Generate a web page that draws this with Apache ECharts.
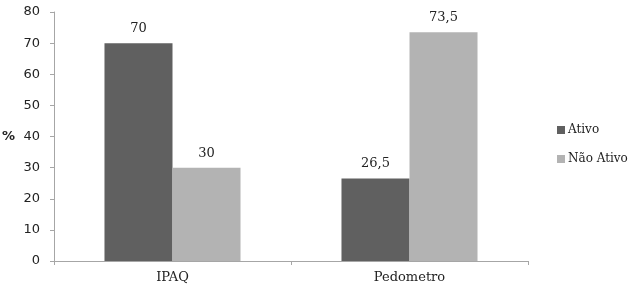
<!DOCTYPE html>
<html>
<head>
<meta charset="utf-8">
<script src="https://cdn.jsdelivr.net/npm/echarts@6/dist/echarts.min.js"></script>
<style>
  html, body { margin: 0; padding: 0; background: #fff; }
  #chart { width: 634px; height: 288px; }
</style>
</head>
<body>
<div id="chart"></div>
<script>
// Dados do gráfico
const categorias = ['IPAQ', 'Pedometro'];
const ativo = [70, 26.5];
const naoAtivo = [30, 73.5];
const seriesNomes = ['Ativo', 'Não Ativo'];

const serifFont = '"DejaVu Serif", serif';
const sansFont = '"DejaVu Sans", Verdana, sans-serif';

function fmt(v) {
    return String(v).replace('.', ',');
}

const labelStyle = {
    show: true,
    position: 'top',
    distance: 8,
    color: '#222',
    fontFamily: serifFont,
    fontSize: 13,
    formatter: function(p) { return fmt(p.value); }
};

const option = {
    animation: false,
    backgroundColor: '#fff',
    grid: {
        left: 54,
        right: 106,
        top: 12,
        bottom: 27,
        containLabel: false,
        outerBoundsMode: 'none'
    },
    legend: {
        orient: 'vertical',
        left: 552,
        top: 119,
        itemWidth: 8,
        itemHeight: 8,
        itemGap: 17,
        icon: 'rect',
        textStyle: {
            fontFamily: serifFont,
            fontSize: 12,
            color: '#222',
            padding: [0, 0, 0, -2]
        },
        data: seriesNomes
    },
    xAxis: {
        type: 'category',
        data: categorias,
        axisLine: { lineStyle: { color: '#a6a6a6', width: 1 } },
        axisTick: { show: true, alignWithLabel: false, length: 4, lineStyle: { color: '#a6a6a6' } },
        axisLabel: {
            color: '#222',
            fontFamily: serifFont,
            fontSize: 13,
            margin: 10
        }
    },
    yAxis: {
        type: 'value',
        min: 0,
        max: 80,
        interval: 10,
        name: '%',
        nameLocation: 'middle',
        nameRotate: 0,
        nameGap: 39,
        nameTextStyle: {
            fontFamily: sansFont,
            fontWeight: 'bold',
            fontSize: 13,
            color: '#222'
        },
        axisLine: { show: true, lineStyle: { color: '#a6a6a6', width: 1 } },
        axisTick: { show: true, length: 4, lineStyle: { color: '#a6a6a6' } },
        splitLine: { show: false },
        axisLabel: {
            color: '#222',
            fontFamily: sansFont,
            fontSize: 13,
            margin: 14
        }
    },
    series: [
        {
            name: seriesNomes[0],
            type: 'bar',
            data: ativo,
            barGap: '0%',
            barCategoryGap: '42.6%',
            itemStyle: { color: '#606060' },
            label: labelStyle
        },
        {
            name: seriesNomes[1],
            type: 'bar',
            data: naoAtivo,
            itemStyle: { color: '#b3b3b3' },
            label: labelStyle
        }
    ]
};

const chart = echarts.init(document.getElementById('chart'));
chart.setOption(option);
</script>
</body>
</html>
